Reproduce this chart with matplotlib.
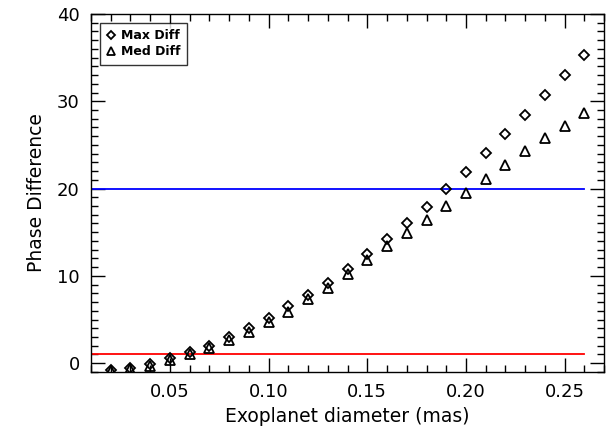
import matplotlib
matplotlib.use("Agg")
import matplotlib.pyplot as plt
from matplotlib.ticker import MultipleLocator, FormatStrFormatter

diameter = [0.02, 0.03, 0.04, 0.05, 0.06, 0.07, 0.08, 0.09, 0.10, 0.11, 0.12, 0.13,
            0.14, 0.15, 0.16, 0.17, 0.18, 0.19, 0.20, 0.21, 0.22, 0.23, 0.24, 0.25, 0.26]
max_diff = [-0.75, -0.5, -0.1, 0.6, 1.3, 2.0, 3.0, 4.0, 5.15, 6.5, 7.8, 9.2,
            10.8, 12.5, 14.2, 16.0, 17.9, 19.9, 21.9, 24.05, 26.2, 28.4, 30.7, 33.0, 35.3]
med_diff = [-0.9, -0.7, -0.3, 0.4, 1.1, 1.7, 2.6, 3.6, 4.7, 5.9, 7.3, 8.6,
            10.2, 11.8, 13.4, 14.9, 16.4, 18.0, 19.5, 21.1, 22.75, 24.3, 25.8, 27.2, 28.6]
line_x = [0.0, 0.26]
red_level = [1.0, 1.0]
blue_level = [20.0, 20.0]

plt.rcParams['font.family'] = ['DejaVu Sans']
fig = plt.figure(figsize=(6.06, 4.36), dpi=100)
ax = fig.add_axes([0.150, 0.147, 0.847, 0.821])

ax.plot(line_x, red_level, color='#ff0000', lw=1.3)
ax.plot(line_x, blue_level, color='#0000ff', lw=1.3)
ax.plot(diameter, max_diff, linestyle='none', marker='D', markersize=5.0,
        markerfacecolor='none', markeredgecolor='black', markeredgewidth=1.3, label='Max Diff')
ax.plot(diameter, med_diff, linestyle='none', marker='^', markersize=6.8,
        markerfacecolor='none', markeredgecolor='black', markeredgewidth=1.3, label='Med Diff')

ax.set_xlim(0.01, 0.27)
ax.set_ylim(-1, 40)
ax.xaxis.set_major_locator(MultipleLocator(0.05))
ax.xaxis.set_minor_locator(MultipleLocator(0.01))
ax.xaxis.set_major_formatter(FormatStrFormatter('%.2f'))
ax.yaxis.set_major_locator(MultipleLocator(10))
ax.yaxis.set_minor_locator(MultipleLocator(1))
ax.tick_params(which='both', direction='in', top=True, right=True, labelsize=13, width=1)
ax.tick_params(which='major', length=10, pad=8)
ax.tick_params(which='minor', length=5)
for s in ax.spines.values():
    s.set_linewidth(1)

ax.set_xlabel('Exoplanet diameter (mas)', fontsize=13.5, labelpad=4)
ax.set_ylabel('Phase Difference', fontsize=13.5, labelpad=8)

leg = ax.legend(loc='upper left', bbox_to_anchor=(0.018, 0.975), borderaxespad=0,
                prop={'weight': 'bold', 'size': 9}, frameon=True, fancybox=False,
                edgecolor='black', handlelength=0.8, handletextpad=0.4,
                borderpad=0.5, labelspacing=0.25, markerscale=0.9)
leg.get_frame().set_linewidth(1)

fig.savefig('out.png', dpi=100)
